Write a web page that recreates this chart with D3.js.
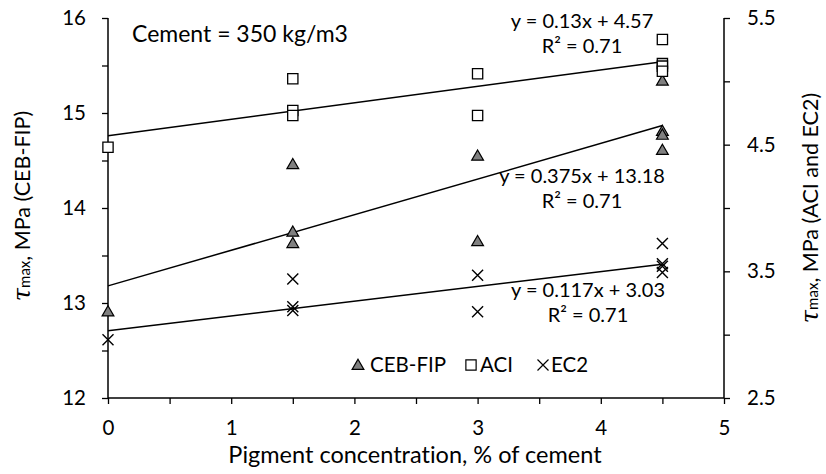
<!DOCTYPE html>
<html>
<head>
<meta charset="utf-8">
<script src="https://cdn.jsdelivr.net/npm/d3@7"></script>
<style>
  html, body { margin: 0; padding: 0; background: #fff; }
  svg text { font-family: Lato, "Open Sans", sans-serif; fill: #000; font-variant-ligatures: none; }
</style>
</head>
<body>
<svg id="chart" width="826" height="474"></svg>
<script>
// Pigment concentration (% of cement) for each specimen
const pigment = [0, 1.5, 1.5, 1.5, 3, 3, 4.5, 4.5, 4.5, 4.5];
// Bond strength predictions, MPa
const cebFip = [12.91, 14.46, 13.75, 13.63, 14.55, 13.65, 15.34, 14.81, 14.77, 14.61];
const aci    = [4.48, 5.02, 4.77, 4.73, 5.06, 4.73, 5.33, 5.14, 5.12, 5.08];
const ec2    = [2.96, 3.44, 3.22, 3.19, 3.47, 3.18, 3.72, 3.56, 3.54, 3.49];

// Linear trend lines: CEB-FIP, ACI, EC2
const trendNames = ["CEB-FIP", "ACI", "EC2"];
const trendSlope = [0.375, 0.13, 0.117];
const trendIntercept = [13.18, 4.57, 3.03];
const trendR2 = ["0.71", "0.71", "0.71"];

const xTicks = [0, 1, 2, 3, 4, 5];
const leftTicks = [12, 13, 14, 15, 16];
const rightTicks = [2.5, 3.5, 4.5, 5.5];

const svg = d3.select("#chart");

const x = d3.scaleLinear().domain([0, 5]).range([108, 724]);
const yL = d3.scaleLinear().domain([12, 16]).range([398, 18]);
const yR = d3.scaleLinear().domain([2.5, 5.5]).range([398, 18]);

// Axes
const axisFont = "20.5px";
const gx = svg.append("g").attr("transform", `translate(0,${yL(12)})`)
  .call(d3.axisBottom(x).tickValues(d3.range(0, 5.01, 0.5)).tickSize(6)
    .tickFormat(d => xTicks.includes(d) ? d3.format("d")(d) : ""));
const gl = svg.append("g").attr("transform", `translate(${x(0)},0)`)
  .call(d3.axisLeft(yL).tickValues(d3.range(12, 16.01, 0.5)).tickSize(6)
    .tickFormat(d => leftTicks.includes(d) ? d3.format("d")(d) : ""));
const gr = svg.append("g").attr("transform", `translate(${x(5)},0)`)
  .call(d3.axisRight(yR).tickValues(d3.range(2.5, 5.51, 0.5)).tickSize(6)
    .tickFormat(d => rightTicks.includes(+d.toFixed(1)) ? d3.format(".1f")(d) : ""));

[gx, gl, gr].forEach(g => {
  g.select(".domain").attr("stroke", "#000").attr("stroke-width", 1.5);
  g.selectAll(".tick line").attr("stroke", "#000").attr("stroke-width", 1.3);
  g.selectAll(".tick text").style("font-size", axisFont)
    .style("font-family", "Lato, 'Open Sans', sans-serif").attr("fill", "#000");
});
gx.selectAll(".tick text").attr("y", 37).attr("dy", 0);
gl.selectAll(".tick text").attr("x", -22);
gr.selectAll(".tick text").attr("x", 23);
gx.select(".domain").attr("d", `M${x(0)},0H${x(5)}`);
gl.select(".domain").attr("d", `M0,${yL(12)}V${yL(16)}`);
gr.select(".domain").attr("d", `M0,${yR(2.5)}V${yR(5.5)}`);

// Axis titles
svg.append("text")
  .attr("x", 415).attr("y", 463)
  .attr("text-anchor", "middle").style("font-size", "23.5px")
  .text("Pigment concentration, % of cement");

function yTitle(cx, cy, rest) {
  const t = svg.append("text")
    .attr("transform", `translate(${cx},${cy}) rotate(-90)`)
    .attr("text-anchor", "middle").style("font-size", "21.5px");
  t.append("tspan").style("font-family", "'DejaVu Serif', serif").style("font-style", "italic")
    .style("font-size", "24px").text("τ");
  t.append("tspan").style("font-size", "15px").text("max");
  t.append("tspan").text(rest);
}
yTitle(30, 206, ", MPa (CEB-FIP)");
yTitle(818, 208, ", MPa (ACI and EC2)");

// Trend lines, drawn over the tested range
const scalesFor = [yL, yR, yR];
const xMax = d3.max(pigment);
trendNames.forEach((n, i) => {
  const ys = scalesFor[i];
  svg.append("line")
    .attr("x1", x(0)).attr("y1", ys(trendIntercept[i]))
    .attr("x2", x(xMax)).attr("y2", ys(trendIntercept[i] + trendSlope[i] * xMax))
    .attr("stroke", "#000").attr("stroke-width", 1.5);
});

// Markers
const triPath = d3.symbol(d3.symbolTriangle, 60)();
const sqPath = d3.symbol(d3.symbolSquare, 105)();
const crossPath = "M-5.5,-5.5L5.5,5.5M-5.5,5.5L5.5,-5.5";

svg.append("g").selectAll("path").data(pigment).join("path")
  .attr("transform", (d, i) => `translate(${x(d)},${yL(cebFip[i]) + 1})`)
  .attr("d", triPath).attr("fill", "#808080").attr("stroke", "#000").attr("stroke-width", 1.2);

svg.append("g").selectAll("path").data(pigment).join("path")
  .attr("transform", (d, i) => `translate(${x(d)},${yR(aci[i])})`)
  .attr("d", sqPath).attr("fill", "#fff").attr("stroke", "#000").attr("stroke-width", 1.3);

svg.append("g").selectAll("path").data(pigment).join("path")
  .attr("transform", (d, i) => `translate(${x(d)},${yR(ec2[i])})`)
  .attr("d", crossPath).attr("fill", "none").attr("stroke", "#000").attr("stroke-width", 1.4);

// Trend equations
const eqPos = [[582, 183], [582, 28], [588, 297]];
const fmt = v => String(+v.toFixed(3));
trendNames.forEach((n, i) => {
  const [ex, ey] = eqPos[i];
  svg.append("text").attr("x", ex).attr("y", ey).attr("text-anchor", "middle")
    .style("font-size", "20px")
    .text(`y = ${fmt(trendSlope[i])}x + ${fmt(trendIntercept[i])}`);
  svg.append("text").attr("x", ex).attr("y", ey + 25).attr("text-anchor", "middle")
    .style("font-size", "20px")
    .text(`R² = ${trendR2[i]}`);
});

// Annotation
svg.append("text").attr("x", 132).attr("y", 42).style("font-size", "23px")
  .text("Cement = 350 kg/m3");

// Legend
const legend = svg.append("g").attr("transform", "translate(0,365)");
const legendItems = [
  { name: "CEB-FIP", sx: 358, tx: 370, d: triPath, fill: "#808080" },
  { name: "ACI", sx: 471, tx: 480, d: sqPath, fill: "#fff" },
  { name: "EC2", sx: 543, tx: 551, d: crossPath, fill: "none" }
];
legendItems.forEach(it => {
  legend.append("path").attr("transform", `translate(${it.sx},${it.name === "CEB-FIP" ? 1 : 0})`)
    .attr("d", it.d).attr("fill", it.fill).attr("stroke", "#000").attr("stroke-width", 1.2);
  legend.append("text").attr("x", it.tx).attr("y", 7)
    .style("font-size", "20.5px").text(it.name);
});
</script>
</body>
</html>
